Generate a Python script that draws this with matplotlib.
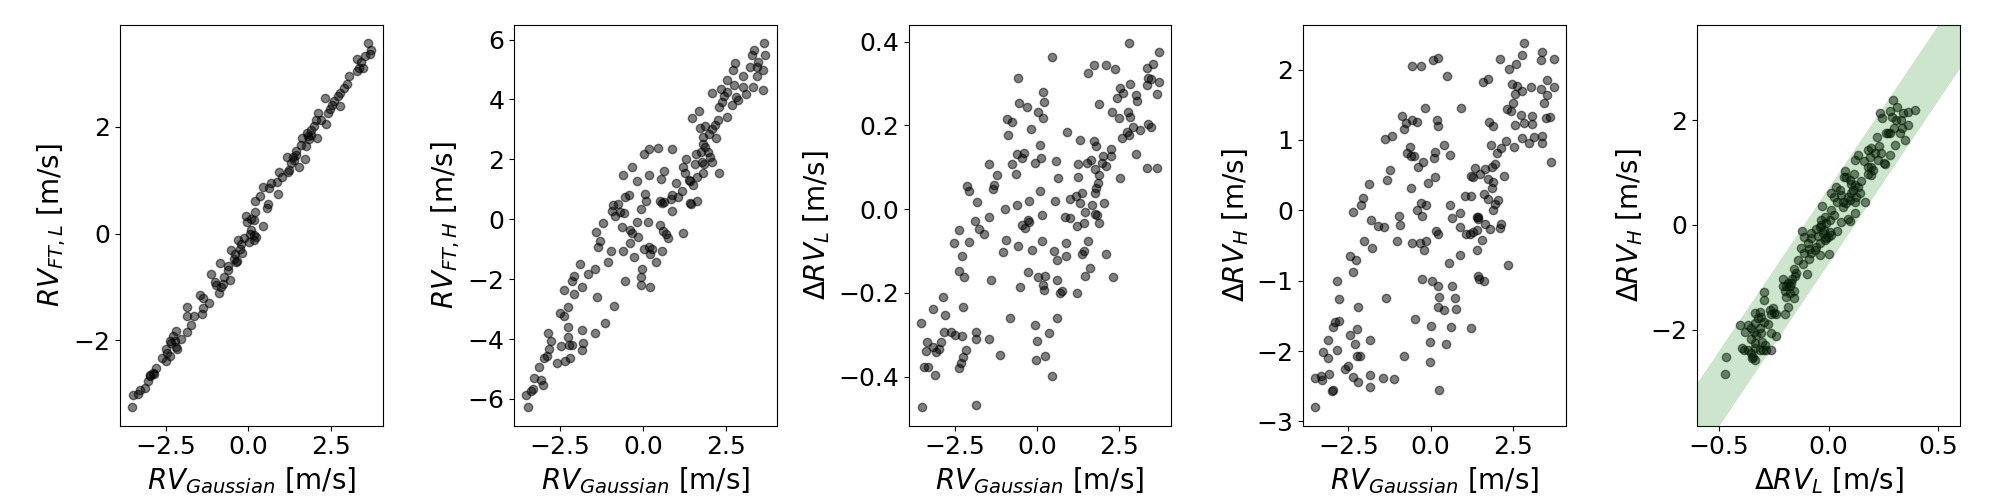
import numpy as np
import matplotlib
matplotlib.use('Agg')
import matplotlib.pyplot as plt

# ---   DATA   --- #
# Panel 1: RV_Gaussian vs RV_FT,L
P1_X = [-3.52, -3.49, -3.34, -3.28, -3.11, -3.03, -2.97, -2.88, -2.80, -2.85,
        -2.60, -2.48, -2.46, -2.38, -2.50, -2.38, -2.28, -2.20, -2.33, -2.16,
        -2.03, -2.18, -1.86, -1.74, -1.84, -1.85, -1.63, -1.41, -1.37, -1.47,
        -1.37, -1.19, -1.14, -0.99, -0.97, -0.89, -0.82, -0.84, -0.77, -0.62,
        -0.56, -0.60, -0.51, -0.43, -0.39, -0.33, -0.31, -0.26, -0.19, -0.23,
        -0.11, 0.04, 0.07, 0.09, 0.19, 0.24, -0.06, -0.03, 0.09, 0.22,
        0.19, 0.46, 0.21, 0.36, 0.44, 0.56, 0.59, 0.62, 0.70, 0.87,
        0.90, 1.03, 1.20, 1.25, 1.30, 1.17, 1.40, 1.45, 1.53, 1.60,
        1.72, 1.75, 1.62, 1.78, 1.91, 1.99, 1.85, 2.08, 2.06, 2.11,
        2.21, 2.36, 2.32, 2.41, 2.49, 2.54, 2.59, 2.77, 2.71, 2.79,
        2.91, 3.01, 3.06, 3.31, 3.29, 3.42, 3.47, 3.54, 3.72, 3.70,
        3.62, 3.35, 0.95, 1.35, 1.45, 1.80, 1.91, 0.19, -0.38, -0.72,
        -2.23, -2.96]
P1_Y = [-3.25, -3.02, -3.00, -2.92, -2.88, -2.76, -2.65, -2.60, -2.51, -2.63,
        -2.32, -2.38, -2.23, -2.29, -2.16, -2.01, -1.91, -1.83, -2.04, -2.16,
        -1.97, -2.13, -1.85, -1.72, -1.54, -1.38, -1.55, -1.50, -1.39, -1.15,
        -1.20, -1.29, -0.76, -0.91, -0.97, -1.12, -1.00, -0.55, -0.94, -0.69,
        -0.87, -0.60, -0.30, -0.47, -0.38, -0.51, -0.13, -0.28, -0.36, -0.19,
        -0.09, -0.16, 0.00, 0.06, -0.03, -0.06, 0.33, 0.22, 0.28, 0.41,
        0.25, 0.14, 0.60, 0.70, 0.87, 0.47, 0.56, 0.85, 0.94, 0.97,
        0.74, 1.05, 1.16, 1.19, 1.32, 1.44, 1.38, 1.54, 1.25, 1.66,
        1.39, 1.63, 1.79, 1.88, 1.94, 2.01, 1.77, 1.78, 2.13, 2.26,
        2.13, 2.05, 2.53, 2.26, 2.33, 2.41, 2.48, 2.39, 2.58, 2.63,
        2.73, 2.79, 2.95, 3.04, 3.27, 3.20, 3.10, 3.32, 3.44, 3.35,
        3.56, 3.10, 1.16, 1.44, 1.47, 1.82, 1.85, -0.13, -0.53, -0.82,
        -2.01, -2.66]

# Panel 2: RV_Gaussian vs RV_FT,H
P2_X = [3.66, 3.36, 3.69, 3.30, 3.48, 2.79, 3.43, 2.71, 3.23, 3.61,
        3.45, 3.01, 2.53, 2.75, 3.03, 3.33, 3.61, 2.10, 2.36, 2.53,
        2.44, 2.80, 2.88, 3.11, 2.39, 2.68, 2.29, 2.53, 1.49, 1.70,
        2.27, 2.17, 2.07, 1.88, 1.72, 1.98, 2.22, 1.80, 1.82, 1.87,
        1.75, 1.97, 1.59, 2.02, 1.77, 2.09, 1.84, 1.57, 2.29, 1.80,
        1.62, 1.31, 1.21, 1.28, 1.38, 1.41, 1.52, 1.18, 1.41, 1.46,
        1.62, 1.06, 0.99, 0.88, 0.88, 1.21, 0.87, 0.46, 0.18, 0.03,
        0.63, 0.18, 0.56, 0.63, 0.58, 0.86, 0.51, 0.07, 0.10, -0.05,
        -0.32, -0.59, -0.18, -0.43, -0.53, -0.76, -0.91, -0.94, -0.83, -0.68,
        -0.58, -0.18, 0.15, 0.51, 0.61, 0.71, 0.76, -0.63, -0.40, -0.32,
        -0.15, -0.38, -0.59, -0.28, 0.03, 0.18, 0.28, 0.20, 0.40, 0.58,
        -0.03, -0.05, -0.05, 0.21, -0.53, -1.21, -1.43, -1.29, -1.36, -0.96,
        -1.04, -1.45, -1.65, -1.89, -2.09, -2.15, -1.84, -2.09, -2.39, -1.39,
        -0.86, -2.27, -2.49, -2.37, -2.25, -1.85, -1.13, -2.27, -1.44, -2.85,
        -2.78, -2.47, -2.22, -2.15, -1.82, -1.85, -2.83, -2.90, -2.60, -2.34,
        -2.20, -3.13, -2.98, -3.01, -3.08, -3.28, -3.33, -3.38, -3.52, -3.48]
P2_Y = [5.88, 5.64, 5.47, 5.47, 5.25, 5.21, 5.08, 4.97, 5.08, 4.97,
        4.80, 4.77, 4.64, 4.47, 4.43, 4.43, 4.33, 4.22, 4.36, 4.25,
        4.13, 4.08, 3.97, 4.17, 3.91, 3.80, 3.74, 3.43, 3.39, 3.61,
        3.32, 3.16, 3.00, 3.10, 3.04, 2.85, 2.72, 2.76, 2.52, 2.41,
        2.24, 2.24, 2.18, 2.09, 1.91, 1.91, 1.85, 1.85, 1.55, 1.54,
        1.40, 2.02, 1.74, 1.54, 1.31, 1.27, 1.13, 0.94, 0.53, 0.51,
        0.62, 0.74, 1.21, 0.82, 0.29, -0.45, 2.35, 2.38, 2.35, 2.18,
        1.60, 1.49, 1.33, 0.57, 0.53, 0.68, 0.62, 0.85, 0.62, 0.35,
        1.74, 1.49, 1.29, 0.82, 0.76, 0.51, 0.46, 0.29, 0.12, 0.23,
        0.20, -0.10, -0.10, -0.18, -0.38, -0.49, -0.62, -0.27, -0.36, -0.46,
        -0.58, -0.80, -1.05, -1.25, -0.99, -0.91, -0.99, -1.16, -1.44, -1.05,
        -1.66, -1.94, -2.18, -2.27, -2.05, -0.13, -0.41, -0.71, -0.91, -1.05,
        -1.44, -1.66, -1.83, -1.49, -1.88, -2.05, -2.27, -2.50, -2.36, -2.61,
        -2.89, -2.94, -3.13, -3.24, -3.59, -3.69, -3.48, -3.92, -3.81, -3.81,
        -4.08, -4.22, -4.19, -4.19, -4.14, -4.36, -4.33, -4.56, -4.81, -4.72,
        -4.64, -4.95, -4.64, -5.54, -5.37, -5.30, -5.67, -5.73, -5.86, -6.28]

# Panel 3: RV_Gaussian vs Delta RV_L
P3_X = [2.78, 0.44, 3.70, -0.59, 1.73, 2.09, 2.37, 1.55, 3.34, 3.53,
        3.37, 3.45, 3.72, 3.33, 2.83, 2.53, 0.17, 0.20, -0.56, -0.32,
        2.60, 2.44, 3.00, 3.04, 3.63, 1.88, 0.02, 0.18, 2.29, 2.75,
        2.49, 2.83, -0.93, -0.77, -0.19, -0.88, 0.90, 2.92, 3.12, 3.38,
        3.47, 2.74, 2.57, 2.79, 1.30, 1.72, 1.80, 0.08, -0.61, -0.41,
        -0.46, 0.11, 0.58, -0.07, -1.46, -0.77, 1.23, 1.52, 1.64, 2.00,
        2.23, 1.96, 2.26, 3.01, 3.63, 3.33, 1.76, 2.10, 1.88, -0.65,
        -1.23, 0.63, 1.25, 2.52, -1.30, -1.35, -2.15, -2.08, 1.84, 1.80,
        1.76, 0.08, 1.35, 1.18, 1.01, 0.54, -0.25, -0.62, -1.84, 1.29,
        1.66, 2.04, -0.99, 1.44, 1.76, 0.16, -1.48, 0.86, 0.99, 1.43,
        1.20, 1.88, -1.90, -0.26, -0.46, -0.38, -1.77, -2.39, -1.63, -2.52,
        -2.08, -0.96, 0.15, 1.55, 0.88, -0.59, -0.16, -1.05, 0.51, 1.43,
        1.36, 2.09, 0.89, -2.29, 0.60, -0.27, -2.39, -2.24, 1.61, 1.45,
        0.02, 0.24, 2.31, -1.42, 0.60, 0.19, -0.53, 0.20, 0.74, 0.70,
        1.20, -2.88, -3.16, -2.26, -2.82, -0.84, 0.60, -3.55, -0.07, -2.63,
        -2.83, -2.49, -2.29, -1.85, -1.86, -1.48, 0.36, -2.92, -3.35, -0.02,
        -3.17, -3.00, -3.07, -3.37, -2.17, -2.25, -2.31, -2.39, -1.14, -0.04,
        0.23, -3.43, -3.31, -3.12, 0.45, -3.52, -1.87, -0.28, 1.82]
P3_Y = [0.396, 0.362, 0.374, 0.314, 0.344, 0.344, 0.335, 0.326, 0.338, 0.347,
        0.314, 0.310, 0.304, 0.296, 0.299, 0.289, 0.280, 0.255, 0.253, 0.243,
        0.277, 0.265, 0.272, 0.257, 0.275, 0.250, 0.231, 0.217, 0.231, 0.231,
        0.217, 0.219, 0.214, 0.209, 0.192, 0.178, 0.183, 0.196, 0.188, 0.204,
        0.196, 0.183, 0.170, 0.178, 0.166, 0.162, 0.151, 0.154, 0.132, 0.134,
        0.121, 0.123, 0.114, 0.110, 0.107, 0.107, 0.107, 0.110, 0.118, 0.126,
        0.144, 0.110, 0.126, 0.132, 0.099, 0.098, 0.095, 0.103, 0.081, 0.085,
        0.081, 0.075, 0.076, 0.074, 0.057, 0.047, 0.055, 0.043, 0.063, 0.051,
        0.039, 0.044, 0.039, 0.032, 0.024, 0.020, 0.020, 0.011, 0.017, 0.015,
        0.011, 0.015, 0.001, -0.008, -0.012, -0.014, -0.019, -0.020, -0.022, -0.034,
        -0.040, -0.032, -0.028, -0.031, -0.038, -0.046, -0.048, -0.051, -0.060, -0.081,
        -0.079, -0.073, -0.077, -0.077, -0.082, -0.087, -0.097, -0.103, -0.101, -0.101,
        -0.107, -0.107, -0.112, -0.112, -0.121, -0.149, -0.147, -0.162, -0.141, -0.160,
        -0.162, -0.160, -0.163, -0.169, -0.168, -0.181, -0.185, -0.192, -0.196, -0.200,
        -0.200, -0.210, -0.239, -0.234, -0.252, -0.259, -0.259, -0.271, -0.276, -0.293,
        -0.294, -0.301, -0.304, -0.293, -0.310, -0.309, -0.295, -0.318, -0.317, -0.314,
        -0.329, -0.335, -0.341, -0.339, -0.337, -0.353, -0.367, -0.380, -0.349, -0.359,
        -0.351, -0.377, -0.378, -0.396, -0.399, -0.473, -0.467, -0.026, -0.014]

# Panel 4: RV_Gaussian vs Delta RV_H
P4_X = [2.85, 2.78, 3.38, 2.11, 3.35, 3.74, 2.58, 2.38, -0.58, -0.28,
        0.06, 0.21, 0.50, 1.75, 1.58, 3.52, 2.47, 2.63, 3.05, 3.74,
        3.35, 2.78, 2.56, 3.54, 3.45, 2.50, -0.17, 0.91, 2.33, 2.44,
        2.74, 3.09, 3.63, 3.51, -0.88, -0.56, 0.18, -0.74, -0.41, -0.81,
        0.21, 1.78, 1.90, 2.57, 2.85, 3.07, -1.18, -1.39, 2.78, 3.14,
        3.38, 2.98, 3.37, 2.30, 2.54, 1.84, 2.14, 2.01, 0.40, 0.60,
        0.14, -0.72, -0.64, -0.61, -0.52, 0.10, -0.22, 3.66, 1.95, -1.24,
        1.35, 1.65, 1.87, -0.39, -1.33, 1.28, 1.24, 1.51, 2.23, 0.13,
        -0.08, -1.88, -0.61, 1.75, 1.90, 1.85, -2.06, -2.12, -2.37, 1.05,
        1.23, 1.61, 1.73, 2.05, 1.95, 1.88, 0.59, -0.30, -0.14, -0.42,
        -0.26, 0.89, 0.65, 1.42, 1.45, 1.64, 1.81, 2.13, 2.12, -0.97,
        -0.94, -1.81, -1.61, -1.42, 0.89, 0.16, 0.22, 1.08, 1.21, 1.28,
        1.40, -2.04, -1.02, -0.56, -0.33, -0.14, -0.21, 1.55, 1.40, -1.77,
        0.89, -2.46, -2.27, -2.37, 0.56, 2.36, -0.27, 0.04, 0.22, 0.65,
        1.44, 1.48, 1.63, -2.86, 0.25, 0.74, -1.36, -2.78, -2.22, 0.21,
        0.41, 0.76, -0.48, -2.78, -2.90, -2.98, -2.24, 0.00, 0.62, 1.23,
        -2.45, -3.13, -1.85, -2.29, -0.03, 0.48, -3.28, -2.86, -3.13, -2.25,
        -2.16, -0.81, -0.02, -2.59, -2.52, -3.52, -3.33, -3.31, -3.10, -2.37,
        -2.22, -1.84, -1.45, -1.11, -1.85, -2.98, -3.00, 0.25, -3.50, 1.44]
P4_Y = [2.375, 2.21, 2.25, 2.15, 2.14, 2.15, 2.08, 2.01, 2.05, 2.05,
        2.14, 2.16, 1.91, 1.87, 1.83, 1.85, 1.79, 1.77, 1.75, 1.75,
        1.72, 1.70, 1.66, 1.64, 1.53, 1.52, 1.45, 1.46, 1.44, 1.41,
        1.36, 1.34, 1.33, 1.31, 1.34, 1.29, 1.29, 1.24, 1.25, 1.16,
        1.20, 1.26, 1.20, 1.21, 1.24, 1.22, 1.05, 1.01, 1.03, 1.04,
        1.05, 0.96, 0.96, 0.98, 0.90, 0.93, 0.89, 0.82, 0.93, 0.79,
        0.83, 0.82, 0.90, 0.77, 0.77, 0.74, 0.68, 0.69, 0.66, 0.57,
        0.60, 0.59, 0.62, 0.61, 0.43, 0.48, 0.49, 0.52, 0.49, 0.47,
        0.39, 0.38, 0.32, 0.44, 0.40, 0.31, 0.17, 0.07, -0.03, 0.21,
        0.20, 0.23, 0.16, 0.15, 0.09, 0.00, 0.08, 0.11, 0.07, 0.01,
        -0.08, -0.04, -0.11, -0.09, -0.13, -0.20, -0.26, -0.20, -0.25, -0.08,
        -0.21, -0.14, -0.22, -0.24, -0.24, -0.30, -0.33, -0.33, -0.33, -0.31,
        -0.28, -0.44, -0.44, -0.47, -0.46, -0.44, -0.57, -0.42, -0.56, -0.54,
        -0.63, -0.65, -0.71, -0.88, -0.75, -0.78, -0.97, -1.01, -1.08, -1.07,
        -0.94, -0.98, -1.00, -1.00, -1.23, -1.24, -1.25, -1.26, -1.37, -1.37,
        -1.41, -1.40, -1.54, -1.57, -1.59, -1.66, -1.69, -1.64, -1.66, -1.68,
        -1.77, -1.85, -1.85, -1.90, -1.87, -1.90, -2.01, -1.99, -2.10, -2.07,
        -2.07, -2.07, -2.16, -2.25, -2.22, -2.38, -2.35, -2.41, -2.32, -2.37,
        -2.44, -2.34, -2.39, -2.40, -2.51, -2.55, -2.57, -2.55, -2.80, -0.09]

# Panel 5: Delta RV_L vs Delta RV_H
P5_X = [0.295, 0.233, 0.244, 0.279, 0.314, 0.339, 0.362, 0.393, 0.289, 0.332,
        0.362, 0.298, 0.335, 0.263, 0.281, 0.222, 0.304, 0.347, 0.228, 0.195,
        0.180, 0.240, 0.279, 0.134, 0.187, 0.164, 0.253, 0.119, 0.180, 0.202,
        0.192, 0.076, 0.116, 0.070, 0.096, 0.149, 0.119, 0.035, 0.012, 0.058,
        0.104, 0.126, 0.100, 0.167, 0.081, 0.040, -0.030, 0.012, 0.065, 0.119,
        0.027, 0.088, 0.100, 0.058, -0.033, -0.011, -0.041, -0.021, -0.056, 0.005,
        0.040, -0.003, -0.122, -0.110, -0.079, -0.049, -0.018, -0.041, -0.056, -0.091,
        -0.125, -0.082, -0.041, 0.000, -0.091, -0.117, -0.097, -0.158, -0.148, -0.166,
        -0.209, -0.186, -0.178, -0.198, -0.158, -0.193, -0.158, -0.186, -0.295, -0.295,
        -0.201, -0.254, -0.239, -0.262, -0.338, -0.311, -0.323, -0.295, -0.338, -0.277,
        -0.403, -0.367, -0.380, -0.341, -0.307, -0.262, -0.239, -0.353, -0.303, -0.292,
        -0.396, -0.384, -0.338, -0.311, -0.285, -0.265, -0.356, -0.346, -0.338, -0.467,
        -0.472, -0.350,
        0.081, 0.103, 0.134, 0.111, 0.088, 0.119, 0.142, 0.050, 0.065, 0.027,
        0.005, -0.018, -0.033, -0.026, -0.011, 0.012, -0.079, -0.094, -0.064, -0.110,
        -0.140, -0.155, -0.170, -0.193, -0.178, -0.209, -0.247, -0.269, -0.307, -0.315,
        -0.353, -0.330, -0.338, -0.300, -0.368, 0.210, 0.225, 0.256, 0.271, 0.309,
        0.324, 0.195, 0.180]
P5_Y = [2.38, 2.13, 2.04, 2.18, 2.24, 2.14, 2.16, 2.20, 2.06, 2.00,
        1.90, 1.84, 1.84, 1.75, 1.75, 1.68, 1.52, 1.62, 1.50, 1.46,
        1.43, 1.37, 1.33, 1.33, 1.30, 1.21, 1.19, 1.24, 1.11, 1.05,
        0.95, 1.02, 0.97, 0.92, 0.86, 0.84, 0.76, 0.73, 0.60, 0.57,
        0.60, 0.54, 0.48, 0.44, 0.41, 0.43, 0.36, 0.29, 0.35, 0.23,
        0.19, 0.11, 0.08, 0.06, 0.10, 0.03, -0.03, -0.10, -0.08, -0.13,
        -0.11, -0.22, -0.11, -0.23, -0.25, -0.21, -0.29, -0.34, -0.41, -0.46,
        -0.44, -0.54, -0.57, -0.56, -0.65, -0.74, -0.93, -0.83, -0.92, -1.02,
        -1.02, -1.11, -1.17, -1.25, -1.25, -1.38, -1.40, -1.56, -1.27, -1.43,
        -1.70, -1.59, -1.70, -1.70, -1.67, -1.65, -1.78, -1.84, -1.86, -1.89,
        -1.90, -1.90, -2.03, -2.03, -2.06, -2.06, -2.11, -2.18, -2.22, -2.29,
        -2.35, -2.38, -2.35, -2.38, -2.38, -2.39, -2.43, -2.52, -2.57, -2.52,
        -2.83, -2.54,
        0.92, 0.79, 0.73, 0.67, 0.54, 0.44, 0.60, 0.67, 0.44, 0.54,
        0.10, 0.16, 0.00, -0.16, -0.25, -0.19, -0.16, -0.35, -0.48, -0.54,
        -0.67, -0.98, -1.11, -1.17, -1.30, -1.17, -1.68, -1.62, -1.75, -1.97,
        -1.97, -2.10, -2.25, -2.38, -2.38, 1.37, 1.24, 1.17, 1.75, 2.00,
        1.75, 1.11, 0.98]

# Shaded band in the last panel
BAND_SLOPE = 6.2
BAND_HALF_WIDTH = 0.72

RV_G_LABEL = r'$RV_{Gaussian}$ [m/s]'
PANELS = [
    (P1_X, P1_Y, RV_G_LABEL, r'$RV_{FT,L}$ [m/s]'),
    (P2_X, P2_Y, RV_G_LABEL, r'$RV_{FT,H}$ [m/s]'),
    (P3_X, P3_Y, RV_G_LABEL, r'$\Delta RV_L$ [m/s]'),
    (P4_X, P4_Y, RV_G_LABEL, r'$\Delta RV_H$ [m/s]'),
    (P5_X, P5_Y, r'$\Delta RV_L$ [m/s]', r'$\Delta RV_H$ [m/s]'),
]

# ---   PLOT   --- #
fig, axes = plt.subplots(1, 5, figsize=(20, 5), dpi=100)
fig.subplots_adjust(left=0.060, right=0.980, bottom=0.149, top=0.950,
                    wspace=0.50)
for ax, (x, y, xlabel, ylabel) in zip(axes, PANELS):
    ax.scatter(x, y, color='k', alpha=0.5, s=36, zorder=2)
    ax.set_xlabel(xlabel, fontsize=20)
    ax.set_ylabel(ylabel, fontsize=20)
    ax.tick_params(labelsize=18)

# Last panel: band (drawn over the points) and fixed limits
ax = axes[4]
xb = np.array([-0.6, 0.6])
ax.fill_between(xb, BAND_SLOPE * xb - BAND_HALF_WIDTH,
                BAND_SLOPE * xb + BAND_HALF_WIDTH,
                color='green', alpha=0.2, lw=0, zorder=3)
ax.set_xlim(-0.6, 0.6)
ax.set_ylim(-3.82, 3.81)
ax.set_yticks([-2, 0, 2])
axes[0].set_yticks([-2, 0, 2])

fig.savefig('out.png')
